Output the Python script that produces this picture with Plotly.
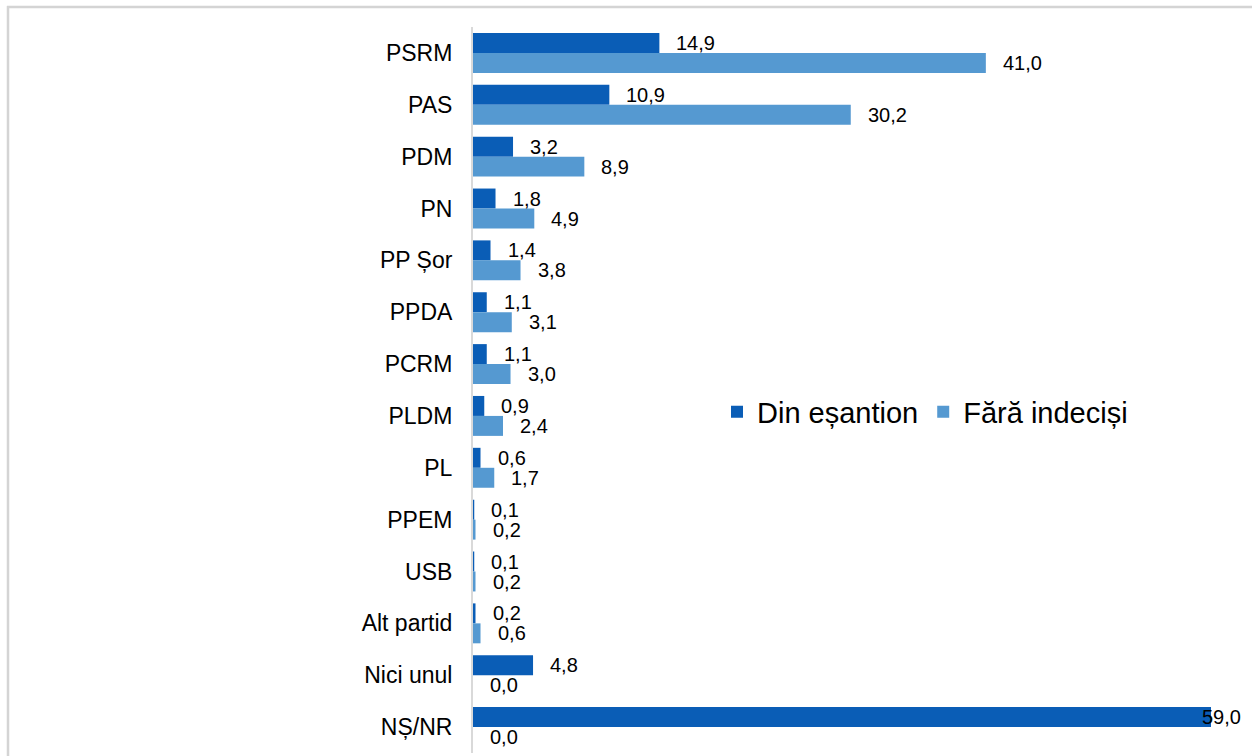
import plotly.graph_objects as go

categories = ["PSRM", "PAS", "PDM", "PN", "PP Șor", "PPDA", "PCRM", "PLDM", "PL",
              "PPEM", "USB", "Alt partid", "Nici unul", "NȘ/NR"]
din_esantion = [14.9, 10.9, 3.2, 1.8, 1.4, 1.1, 1.1, 0.9, 0.6, 0.1, 0.1, 0.2, 4.8, 59.0]
fara_indecisi = [41.0, 30.2, 8.9, 4.9, 3.8, 3.1, 3.0, 2.4, 1.7, 0.2, 0.2, 0.6, 0.0, 0.0]
series_names = ["Din eșantion", "Fără indeciși"]
colors = ["#0A5DB6", "#5599D1"]

W, H = 1252, 756
ML, MR, MT, MB = 473, 41, 27, 3
XMAX = 59.0

fig = go.Figure()
for name, vals, col in zip(series_names, [din_esantion, fara_indecisi], colors):
    fig.add_trace(go.Bar(
        y=categories, x=vals, name=name, orientation="h",
        marker=dict(color=col, line=dict(width=0)),
        hoverinfo="skip",
    ))

def fmt(v):
    return f"{v:.1f}".replace(".", ",")

annotations = []
for vals, ysh in [(din_esantion, 10), (fara_indecisi, -10)]:
    for c, v in zip(categories, vals):
        xs = -11 if v >= XMAX else 15
        annotations.append(dict(
            x=v, y=c, xref="x", yref="y", text=fmt(v), showarrow=False,
            xanchor="left", yanchor="middle", xshift=xs, yshift=ysh,
            font=dict(family="Liberation Sans, Arial, sans-serif", size=20, color="#000000"),
        ))

pw = W - ML - MR
ph = H - MT - MB
def px_to_paper_x(px):
    return (px - ML) / pw
def px_to_paper_y(py):
    return 1 - (py - MT) / ph

border = dict(color="#D4D4D4", width=2.5)
fig.update_layout(
    width=W, height=H,
    margin=dict(l=ML, r=MR, t=MT, b=MB, pad=0),
    paper_bgcolor="white", plot_bgcolor="white",
    barmode="group", bargap=0.23, bargroupgap=0,
    font=dict(family="Liberation Sans, Arial, sans-serif", color="#000000"),
    xaxis=dict(range=[0, XMAX], visible=False, showgrid=False, zeroline=False),
    yaxis=dict(
        autorange="reversed", showgrid=False, zeroline=False,
        showline=True, linecolor="#D9D9D9", linewidth=2,
        ticks="", ticklabelstandoff=14,
        tickfont=dict(family="Liberation Sans, Arial, sans-serif", size=23, color="#000000"),
    ),
    legend=dict(
        orientation="h", x=px_to_paper_x(717), y=px_to_paper_y(412),
        xanchor="left", yanchor="middle", bgcolor="rgba(0,0,0,0)",
        font=dict(family="Liberation Sans, Arial, sans-serif", size=29, color="#000000"),
        itemclick=False, itemdoubleclick=False,
    ),
    annotations=annotations,
    shapes=[
        dict(type="line", xref="paper", yref="paper",
             x0=px_to_paper_x(7), x1=px_to_paper_x(1265),
             y0=px_to_paper_y(7), y1=px_to_paper_y(7), line=border, layer="above"),
        dict(type="line", xref="paper", yref="paper",
             x0=px_to_paper_x(8), x1=px_to_paper_x(8),
             y0=px_to_paper_y(6), y1=px_to_paper_y(775), line=border, layer="above"),
    ],
    showlegend=True,
)

fig.write_html(
    "out.html",
    config={"displayModeBar": False, "staticPlot": True},
    post_script="document.body.style.margin='0';document.body.style.overflow='hidden';",
)
